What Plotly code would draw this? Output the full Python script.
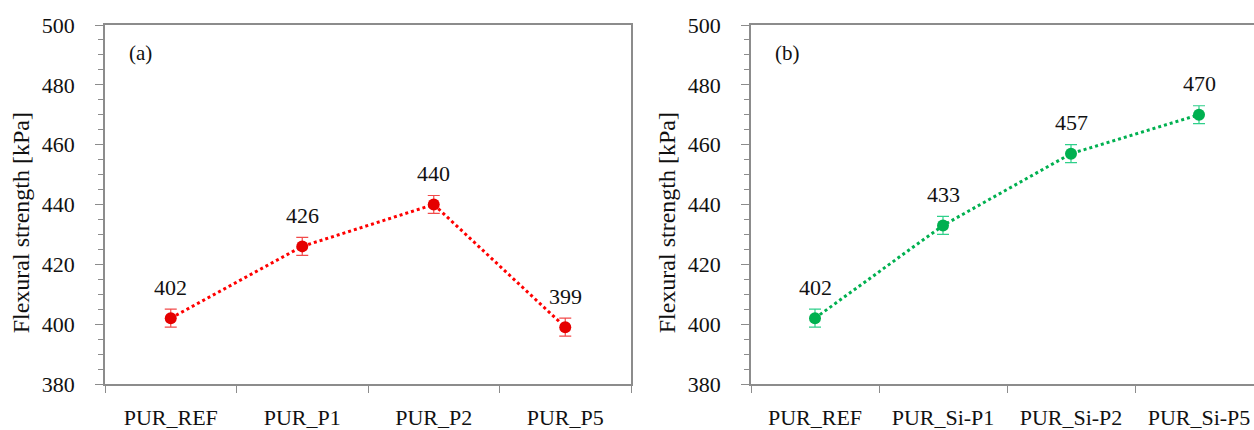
import plotly.graph_objects as go

cats_a = ["PUR_REF", "PUR_P1", "PUR_P2", "PUR_P5"]
vals_a = [402, 426, 440, 399]
err_a = [3, 3, 3, 3]

cats_b = ["PUR_REF", "PUR_Si-P1", "PUR_Si-P2", "PUR_Si-P5"]
vals_b = [402, 433, 457, 470]
err_b = [3, 3, 3, 3]

y_ticks = [380, 400, 420, 440, 460, 480, 500]
panel_labels = ["(a)", "(b)"]
y_title = "Flexural strength [kPa]"

FONT = "'Liberation Serif', 'Times New Roman', serif"
AX = "#8c8c8c"
RED = "#e50000"
RED_L = "#f24a4a"
GREEN = "#00b050"
GREEN_L = "#2fd08a"

fig = go.Figure()

fig.add_trace(go.Scatter(
    x=cats_a, y=vals_a, mode="lines+markers", xaxis="x", yaxis="y",
    line=dict(color="#ff0000", width=3, dash="dot"),
    marker=dict(color=RED, size=12),
    error_y=dict(type="data", array=err_a, color=RED_L, thickness=1.2, width=6),
    showlegend=False))

fig.add_trace(go.Scatter(
    x=cats_b, y=vals_b, mode="lines+markers", xaxis="x2", yaxis="y2",
    line=dict(color=GREEN, width=3, dash="dot"),
    marker=dict(color=GREEN, size=12),
    error_y=dict(type="data", array=err_b, color=GREEN_L, thickness=1.2, width=6),
    showlegend=False))

tickfont = dict(family=FONT, size=22, color="#111111")

def yax(anchor, mirror):
    return dict(
        anchor=anchor, range=[380, 500], tickvals=y_ticks, showgrid=False,
        zeroline=False, showline=True, linecolor=AX, linewidth=1.5, mirror=mirror,
        ticks="outside", ticklen=8, tickcolor=AX, tickwidth=1.2,
        minor=dict(dtick=5, ticks="outside", ticklen=5, tickcolor=AX, tickwidth=1, showgrid=False),
        tickfont=tickfont, ticklabelstandoff=16)

def xax(anchor, domain, rng):
    return dict(
        anchor=anchor, domain=domain, type="category", range=rng, showgrid=False,
        zeroline=False, showline=True, linecolor=AX, linewidth=1.5, mirror=True,
        ticks="outside", tickson="boundaries", ticklen=7, tickcolor=AX, tickwidth=1.2,
        tickfont=tickfont, ticklabelstandoff=13)

W = 1254.0
PH = 362.0
fig.update_layout(
    width=1254, height=430,
    margin=dict(l=0, r=0, t=25, b=43),
    paper_bgcolor="white", plot_bgcolor="white",
    font=dict(family=FONT, color="#111111"),
    xaxis=xax("y", [105 / W, 631 / W], [-0.5, 3.5]),
    yaxis=yax("x", True),
    xaxis2=xax("y2", [751 / W, 1.0], [-0.5, -0.5 + (1254 - 751) / 128.0]),
    yaxis2=yax("x2", False),
)

lab_font = dict(family=FONT, size=22, color="#111111")
for c, v in zip(cats_a, vals_a):
    fig.add_annotation(x=c, y=v, xref="x", yref="y", text=str(v), showarrow=False,
                       yshift=31, font=lab_font)
for c, v in zip(cats_b, vals_b):
    fig.add_annotation(x=c, y=v, xref="x2", yref="y2", text=str(v), showarrow=False,
                       yshift=31, font=lab_font)

for px, lab in zip([127, 773], panel_labels):
    fig.add_annotation(x=px / W, y=1 - (53 - 25) / PH, xref="paper", yref="paper",
                       xanchor="left", yanchor="middle", text=lab, showarrow=False,
                       font=dict(family=FONT, size=21, color="#111111"))

for xc in [21, 667]:
    fig.add_annotation(x=xc / W, y=1 - (225 - 25) / PH, xref="paper", yref="paper", text=y_title,
                       textangle=-90, showarrow=False, xanchor="center", yanchor="middle",
                       font=dict(family=FONT, size=24, color="#111111"))

fig.write_html("out.html")
